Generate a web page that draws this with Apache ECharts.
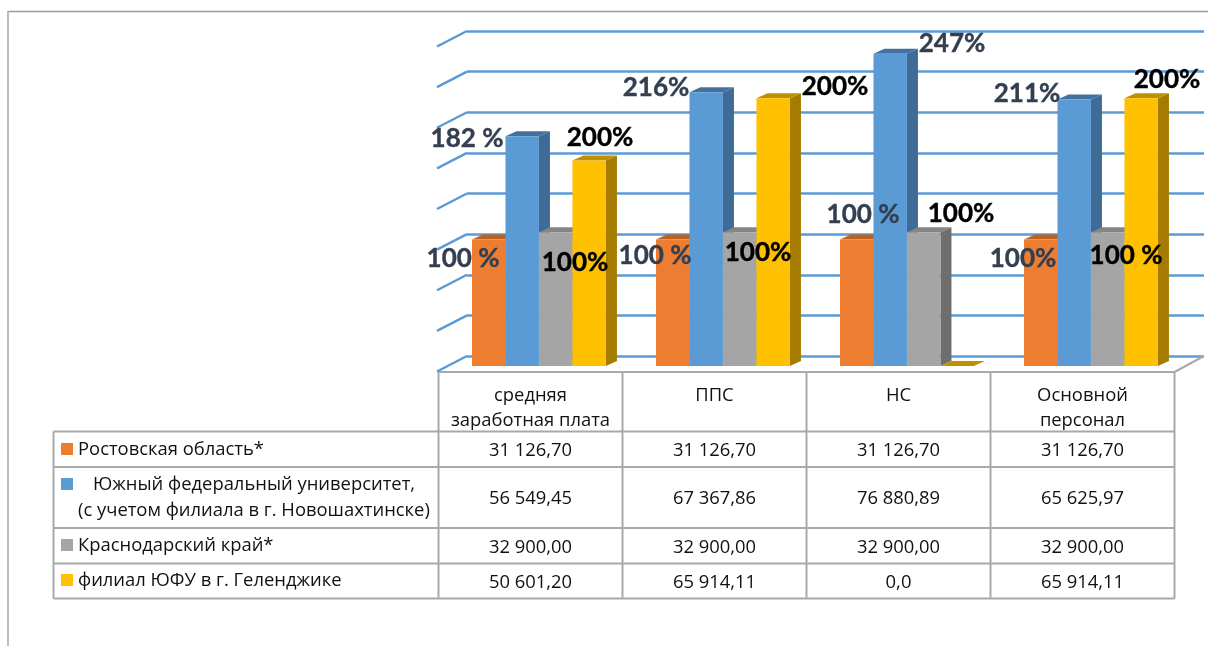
<!DOCTYPE html>
<html>
<head>
<meta charset="utf-8">
<style>html,body{margin:0;padding:0;background:#fff}#c{width:1208px;height:646px}</style>
<script src="https://cdn.jsdelivr.net/npm/echarts@6/dist/echarts.min.js"></script>
</head>
<body>
<div id="c"></div>
<script>
// ---------- data ----------
const categories = ['средняя\nзаработная плата', 'ППС', 'НС', 'Основной\nперсонал'];
const seriesNames = ['Ростовская область*', 'Южный федеральный университет,', 'Краснодарский край*', 'филиал ЮФУ в г. Геленджике'];
const rostov = [31126.70, 31126.70, 31126.70, 31126.70];
const sfedu = [56549.45, 67367.86, 76880.89, 65625.97];
const krasnodar = [32900.00, 32900.00, 32900.00, 32900.00];
const gelendzhik = [50601.20, 65914.11, 0, 65914.11];
const yTicks = [0, 10000, 20000, 30000, 40000, 50000, 60000, 70000, 80000];
const dataLabelsDark = ['182 %', '100 %', '216%', '100 %', '247%', '100 %', '211%', '100%'];
const dataLabelsBlack = ['200%', '100%', '200%', '100%', '100%', '200%', '100 %'];

// ---------- layout / style (not data) ----------
const TABLE_FAMILY = '"Open Sans", "Noto Sans", sans-serif';
const LABEL_FAMILY = 'Lato, "Open Sans", "Noto Sans", sans-serif';
const TABLE_SIZE = 18.4;
const seriesData = [rostov, sfedu, krasnodar, gelendzhik];
const faces = [
  {front: '#ed7d31', side: '#ae5a21', top: '#c0621f'},
  {front: '#5b9bd5', side: '#3f6c96', top: '#41719c'},
  {front: '#a5a5a5', side: '#6e6e6e', top: '#858585'},
  {front: '#ffc000', side: '#a67c00', top: '#bf9000'}
];
const darkPos = [[467,139],[463,259],[656,88],[655,256],[952,44],[863,215],[1027,94],[1023,259]];
const blackPos = [[600,138],[575,263],[835,87],[758,253],[961,214],[1167,80],[1126,256]];
const colX = [438.5, 622.5, 806.5, 990.5, 1174.5];
const rowY = [372, 431.5, 467, 528, 563.5, 598.5];
const rowCenter = [451, 498.5, 547.5, 582.5];
const keyY = [449, 484, 545, 580];
const TABLE_LINE = '#a9a9a9';
const GRID_BLUE = '#5b9bd5';

const fmt = v => {
  if (v === 0) return '0,0';
  const p = v.toFixed(2).split('.');
  return p[0].replace(/\B(?=(\d{3})+$)/g, ' ') + ',' + p[1];
};

const g = [];
const line = (x1, y1, x2, y2, color, w) => g.push({type: 'line', silent: true, z: 1,
  shape: {x1, y1, x2, y2}, style: {stroke: color, lineWidth: w}});
const text = (t, x, y, font, fill, align, extra) => g.push({type: 'text', silent: true, z: 10, x, y,
  style: Object.assign({text: t, font, fill, align: align || 'center', verticalAlign: 'middle'}, extra || {})});

// frame
line(8, 11.5, 1208, 11.5, '#9a9a9a', 1.5);
line(8, 11, 8, 646, '#b0b0b0', 1.7);
// floor right edge
line(1174.5, 372, 1204, 356, '#a9a9a9', 2);
// table
line(colX[0], rowY[0], colX[4], rowY[0], TABLE_LINE, 2);
rowY.slice(1).forEach(y => line(53.5, y, colX[4], y, TABLE_LINE, 2));
colX.forEach(x => line(x, rowY[0], x, rowY[5], TABLE_LINE, 2));
line(53.5, rowY[1], 53.5, rowY[5], TABLE_LINE, 2);

const tableFont = TABLE_SIZE + 'px ' + TABLE_FAMILY;
seriesData.forEach((arr, s) => {
  arr.forEach((v, c) => text(fmt(v), (colX[c] + colX[c + 1]) / 2, rowCenter[s], tableFont, '#111'));
  g.push({type: 'rect', silent: true, z: 5, shape: {x: 61, y: keyY[s] - 6, width: 12, height: 12},
    style: {fill: faces[s].front}});
});
text(seriesNames[0], 78, 450, tableFont, '#111', 'left');
text(seriesNames[1], 93, 485, tableFont, '#111', 'left');
text('(с учетом филиала в г. Новошахтинске)', 78, 511, tableFont, '#111', 'left');
text(seriesNames[2], 78, 546, tableFont, '#111', 'left');
text(seriesNames[3], 78, 581, tableFont, '#111', 'left');

const labelFont = 'bold 26px ' + LABEL_FAMILY;
dataLabelsDark.forEach((t, i) => text(t, darkPos[i][0], darkPos[i][1], labelFont, '#333f50', 'center', {stroke: '#333f50', lineWidth: 0.4}));
dataLabelsBlack.forEach((t, i) => text(t, blackPos[i][0], blackPos[i][1], labelFont, '#000', 'center', {stroke: '#000', lineWidth: 0.4}));

const DX = 11, DY = 5;
const barSeries = seriesData.map((arr, s) => ({
  type: 'custom',
  name: seriesNames[s],
  xAxisIndex: 0, yAxisIndex: 0,
  silent: true,
  z: 3 + s,
  data: arr.map((v, c) => [c, v]),
  encode: {x: 0, y: 1},
  renderItem(params, api) {
    const p = api.coord([api.value(0), api.value(1)]);
    const base = api.coord([api.value(0), 0]);
    const band = api.size([1, 0])[0];
    const w = band * 0.182;
    const x = p[0] - band * 0.318 + s * w;
    const y = p[1], b = base[1];
    const f = faces[s];
    return {type: 'group', children: [
      {type: 'polygon', shape: {points: [[x + w, y], [x + w + DX, y - DY], [x + w + DX, b - DY], [x + w, b]]}, style: {fill: f.side}},
      {type: 'polygon', shape: {points: [[x, y], [x + DX, y - DY], [x + w + DX, y - DY], [x + w, y]]}, style: {fill: f.top}},
      {type: 'rect', shape: {x, y, width: w, height: b - y}, style: {fill: f.front}}
    ]};
  }
}));

const wallTicks = {
  type: 'custom',
  xAxisIndex: 1, yAxisIndex: 1,
  silent: true,
  z: 1,
  data: yTicks.map(v => [0, v]),
  encode: {x: 0, y: 1},
  renderItem(params, api) {
    const p = api.coord([0, api.value(1)]);
    return {type: 'line', shape: {x1: p[0] - 30, y1: p[1] + 15.5, x2: p[0], y2: p[1]},
      style: {stroke: GRID_BLUE, lineWidth: 2.5}};
  }
};

const chart = echarts.init(document.getElementById('c'), null, {renderer: 'canvas'});
chart.setOption({
  animation: false,
  backgroundColor: '#fff',
  grid: [
    {left: 438.5, width: 736, top: 41, height: 325},
    {left: 467, width: 737, top: 31, height: 325}
  ],
  xAxis: [
    {type: 'category', gridIndex: 0, data: categories,
      axisLine: {show: false}, axisTick: {show: false},
      axisLabel: {interval: 0, hideOverlap: false, margin: 17, fontFamily: TABLE_FAMILY, fontSize: TABLE_SIZE, lineHeight: 25, color: '#111', verticalAlign: 'top'}},
    {type: 'value', gridIndex: 1, min: 0, max: 1, show: false}
  ],
  yAxis: [
    {type: 'value', gridIndex: 0, min: 0, max: 80000, interval: 10000, show: false, splitLine: {show: false}},
    {type: 'value', gridIndex: 1, min: 0, max: 80000, interval: 10000,
      axisLine: {show: false}, axisTick: {show: false}, axisLabel: {show: false},
      splitLine: {show: true, lineStyle: {color: GRID_BLUE, width: 2.5}}}
  ],
  series: [wallTicks].concat(barSeries),
  graphic: {elements: g}
});
</script>
</body>
</html>
